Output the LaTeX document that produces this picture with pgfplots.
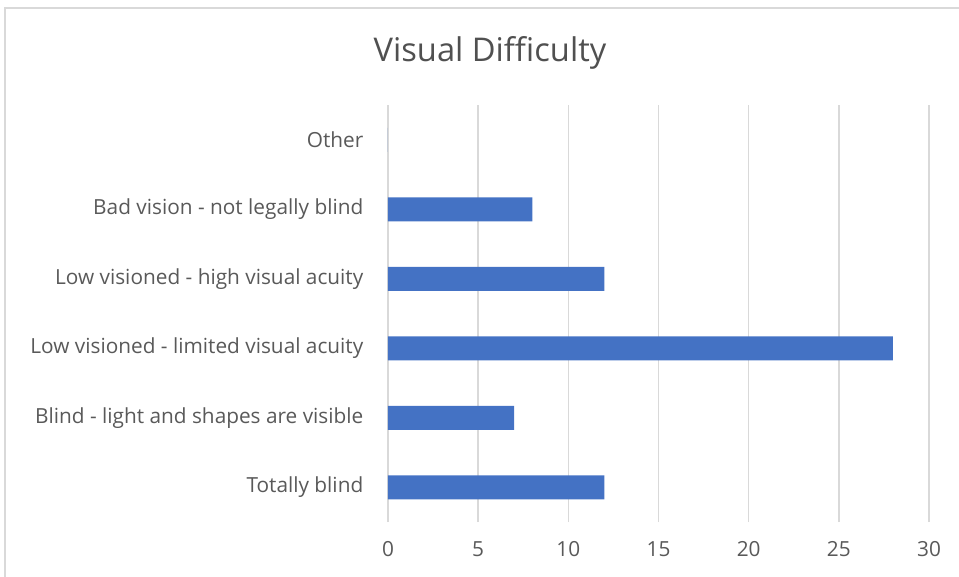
\documentclass[border=0pt]{standalone}
\usepackage{pgfplots}
\pgfplotsset{compat=1.18}
\usepackage{fontspec}
\setmainfont{Open Sans}
\definecolor{barblue}{HTML}{4472C4}
\definecolor{txtgray}{HTML}{595959}
\definecolor{gridgray}{HTML}{D9D9D9}
\begin{document}
\begin{tikzpicture}
\path[use as bounding box] (-291pt,-40.5pt) rectangle (428.25pt,391.5pt);
\draw[gridgray, line width=1.5pt] (-287.25pt,-80pt) |- (470pt,385.5pt);
\begin{axis}[
  at={(0,0)}, anchor=south west,
  scale only axis,
  width=405.75pt, height=312.75pt,
  xbar, bar width=18pt,
  xmin=0, xmax=30,
  ymin=-0.5, ymax=5.5,
  xtick={0,5,...,30},
  ytick={0,1,2,3,4,5},
  yticklabels={Totally blind, Blind - light and shapes are visible, Low visioned - limited visual acuity, Low visioned - high visual acuity, Bad vision - not legally blind, Other},
  major tick length=0pt,
  axis line style={draw=none},
  xmajorgrids,
  major grid style={draw=gridgray, line width=1.1pt},
  tick label style={font=\fontsize{15.6}{18}\selectfont, text=txtgray},
  y tick label style={xshift=-15pt},
  x tick label style={yshift=-11pt},
  /pgf/number format/assume math mode=true,
  clip=false,
]
\addplot[fill=barblue, draw=none] coordinates {(12,0) (7,1) (28,2) (12,3) (8,4) (0,5)};
\end{axis}
\node[font=\fontsize{24.5}{28}\selectfont, text=txtgray!90!black] at (76.5pt,351.5pt) {Visual Difficulty};
\end{tikzpicture}
\end{document}
